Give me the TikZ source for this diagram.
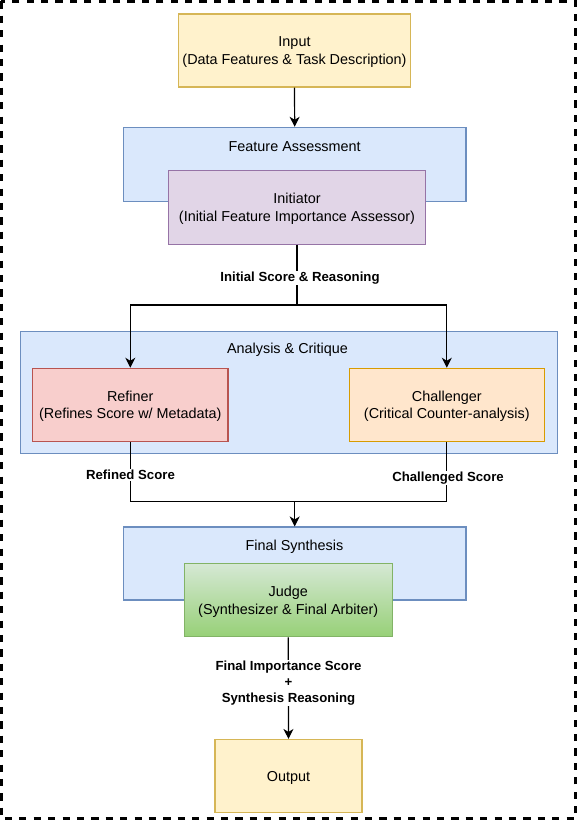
\documentclass[tikz,border=0pt]{standalone}
\usepackage{fontspec}
\setmainfont{Liberation Sans}
\usetikzlibrary{arrows.meta}
\definecolor{yfill}{HTML}{FFF2CC}\definecolor{ydraw}{HTML}{D6B656}
\definecolor{bfill}{HTML}{DAE8FC}\definecolor{bdraw}{HTML}{6C8EBF}
\definecolor{pfill}{HTML}{E1D5E7}\definecolor{pdraw}{HTML}{9673A6}
\definecolor{rfill}{HTML}{F8CECC}\definecolor{rdraw}{HTML}{B85450}
\definecolor{ofill}{HTML}{FFE6CC}\definecolor{odraw}{HTML}{D79B00}
\definecolor{gfill}{HTML}{D5E8D4}\definecolor{gdraw}{HTML}{82B366}
\definecolor{gfilltwo}{HTML}{97D077}
\begin{document}
\begin{tikzpicture}[x=1pt,y=-1pt,
  box/.style={draw, line width=1.1pt, inner sep=0pt, align=center, text depth=0pt,
    font=\fontsize{14.4}{17.3}\selectfont},
  ttl/.style={inner sep=0pt, font=\fontsize{14.4}{17.3}\selectfont},
  elabel/.style={fill=white, inner sep=1pt, align=center,
    font=\bfseries\fontsize{13.2}{15.8}\selectfont},
  line/.style={line width=1.2pt},
  arr/.style={line width=1.2pt, -{Stealth[length=10pt,width=10pt,inset=3pt]}},
  frame/.style={line width=2.4pt, dash pattern=on 7.2pt off 7.2pt}
]
\useasboundingbox (0,0) rectangle (578,822);
\draw[frame] (1.3,1.3) rectangle (575.5,818.5);

% containers
\node[box, fill=bfill, draw=bdraw, minimum width=342.6pt, minimum height=73.7pt] (fa) at (294.7,164.2) {};
\node[ttl] (fatitle) at (294.7,146.7) {Feature Assessment};
\node[box, fill=bfill, draw=bdraw, minimum width=536.7pt, minimum height=121.6pt] (ac) at (288.7,392.5) {};
\node[ttl] (actitle) at (287.5,349.8) {Analysis \& Critique};
\node[box, fill=bfill, draw=bdraw, minimum width=342.6pt, minimum height=73pt] (fs) at (294.7,563.5) {};
\node[ttl] (fstitle) at (294.5,547.2) {Final Synthesis};

% boxes
\node[box, fill=yfill, draw=ydraw, minimum width=232.4pt, minimum height=73pt] (input) at (294.5,50.5)
  {Input\\(Data Features \& Task Description)};
\node[box, fill=pfill, draw=pdraw, minimum width=256.7pt, minimum height=73.7pt] (init) at (297,207.2)
  {Initiator\\(Initial Feature Importance Assessor)};
\node[box, fill=rfill, draw=rdraw, minimum width=195.3pt, minimum height=73pt] (ref) at (130.3,404.8)
  {Refiner\\(Refines Score w/ Metadata)};
\node[box, fill=ofill, draw=odraw, minimum width=195.2pt, minimum height=73pt] (chal) at (446.8,404.8)
  {Challenger\\(Critical Counter-analysis)};
\node[box, top color=gfill, bottom color=gfilltwo, draw=gdraw, minimum width=208pt, minimum height=73pt] (judge) at (288.25,600.2)
  {Judge\\(Synthesizer \& Final Arbiter)};
\node[box, fill=yfill, draw=ydraw, minimum width=147pt, minimum height=73pt] (output) at (288.5,776)
  {Output};

% connectors
\coordinate (j1) at (297,305);
\coordinate (j2) at (294.7,501.7);
\draw[arr] (input.south) -- (fa.north);
\draw[line] (init.south) -- (j1);
\draw[arr] (j1) -| (ref.north);
\draw[arr] (j1) -| (chal.north);
\node[elabel] (l1) at (300,278) {Initial Score \& Reasoning};

\draw[line] (ref.south) |- (j2);
\draw[line] (chal.south) |- (j2);
\draw[arr] (j2) -- (fs.north);
\node[elabel] (l2) at (130.5,475) {Refined Score};
\node[elabel] (l3) at (448,478) {Challenged Score};

\draw[arr] (judge.south) -- (output.north);
\node[elabel] (l4) at (288.5,683) {Final Importance Score\\+\\Synthesis Reasoning};
\end{tikzpicture}
\end{document}
